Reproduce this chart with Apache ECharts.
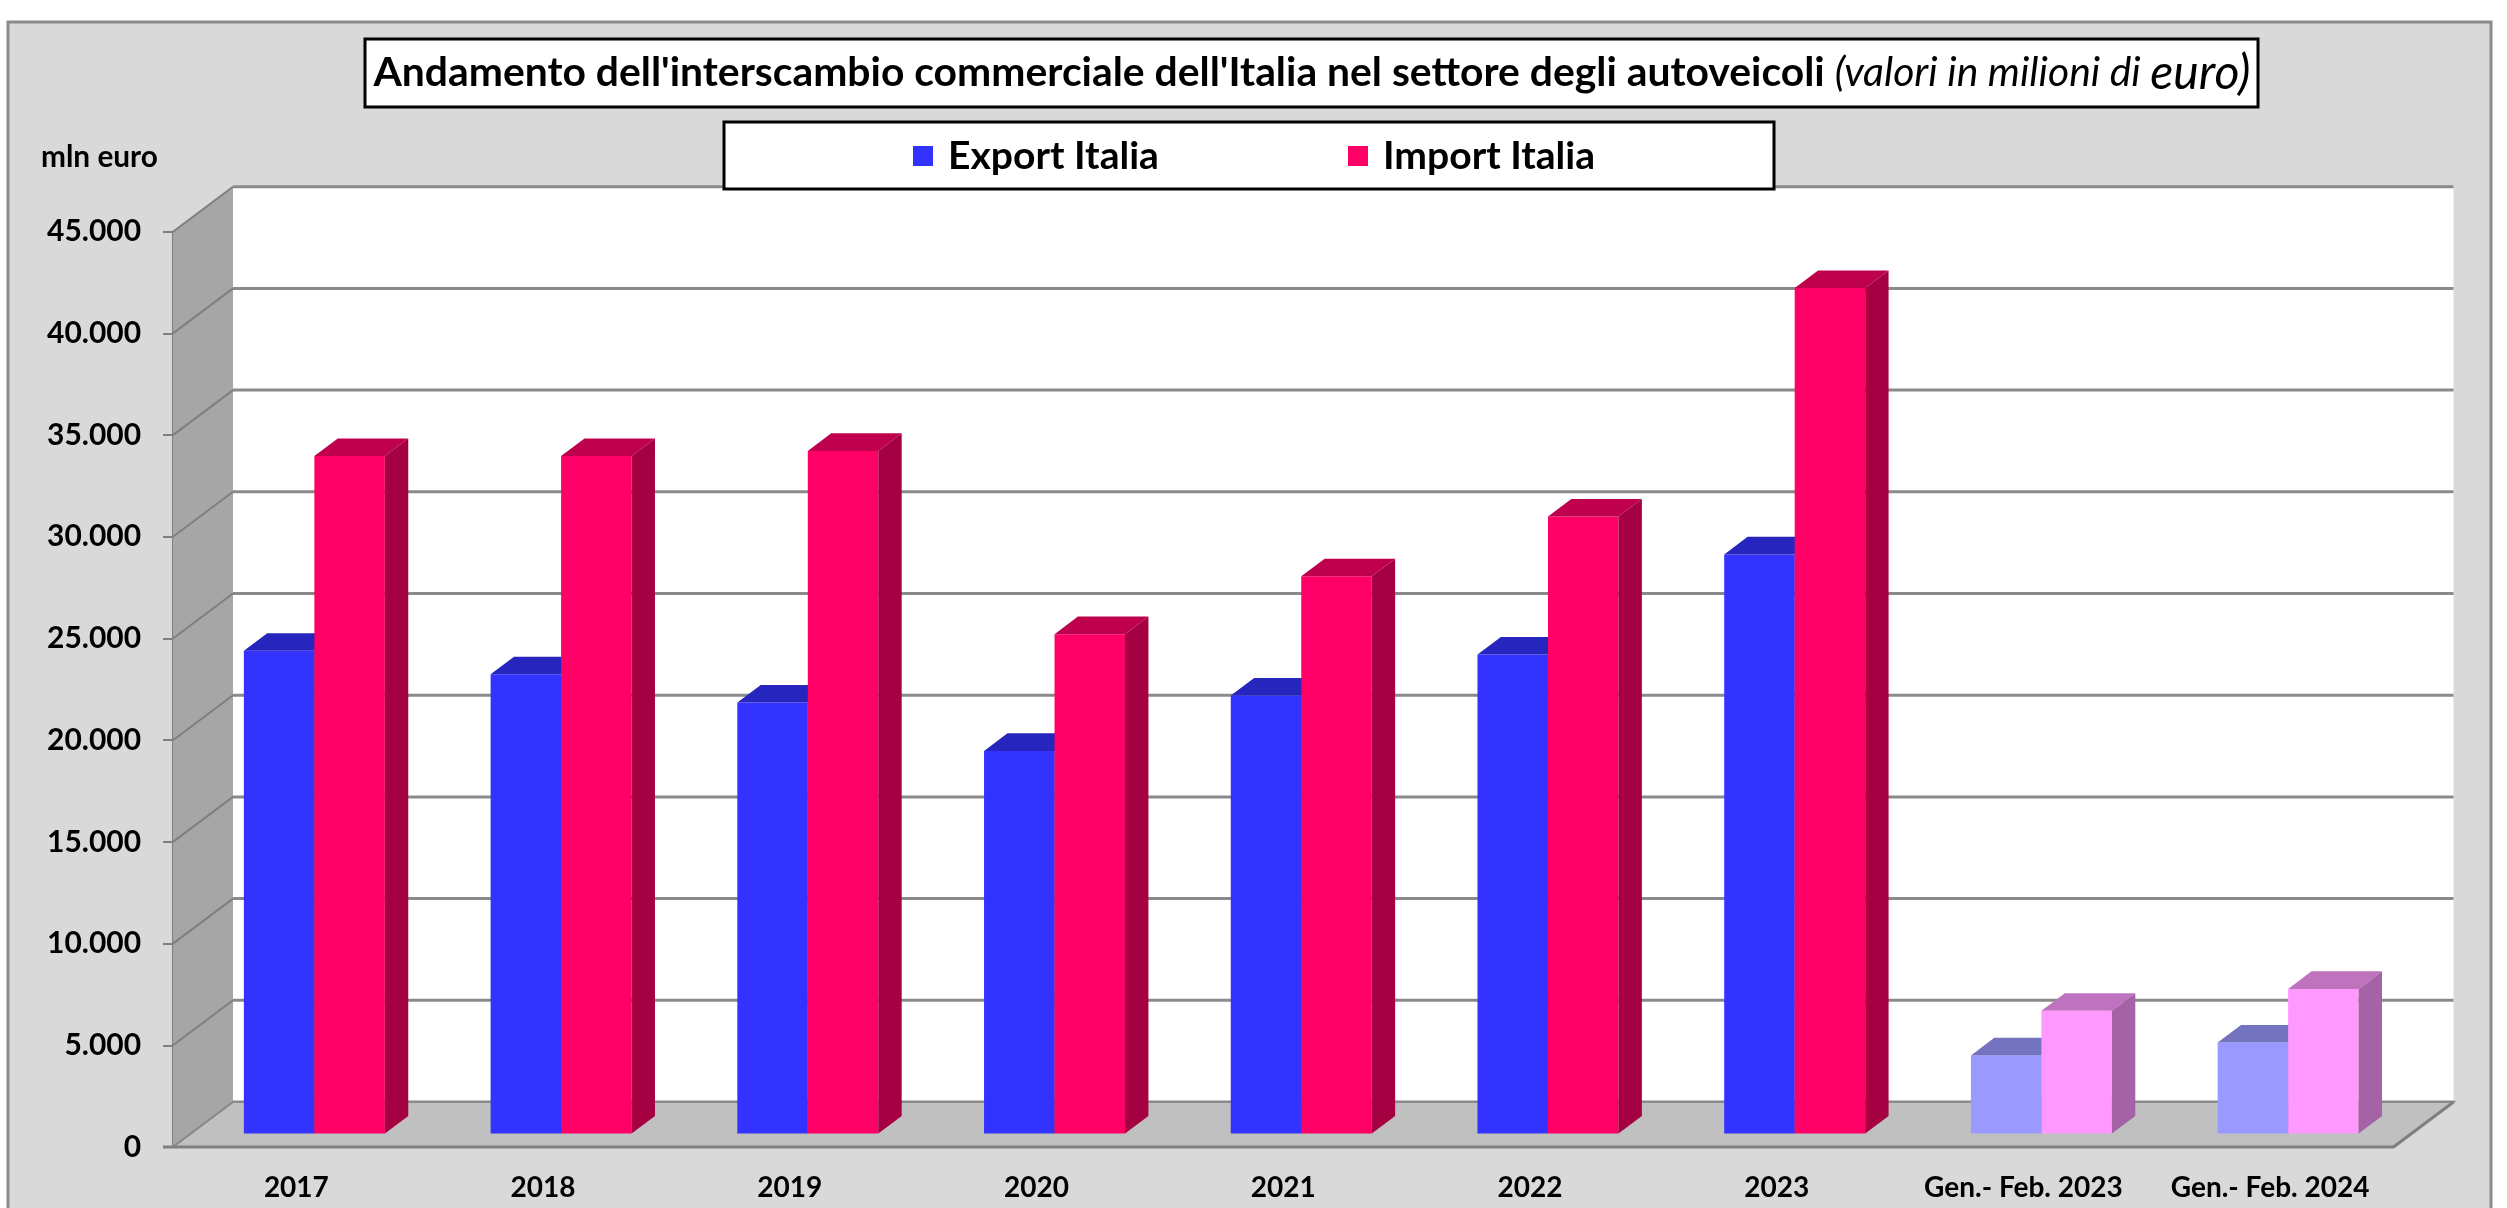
<!DOCTYPE html>
<html><head><meta charset="utf-8">
<script src="https://cdn.jsdelivr.net/npm/echarts/dist/echarts.min.js"></script>
<style>html,body{margin:0;padding:0;background:#fff}#c{width:2507px;height:1208px}</style>
</head><body><div id="c"></div><script>
// ---- data ----
const categories = ['2017','2018','2019','2020','2021','2022','2023','Gen.- Feb. 2023','Gen.- Feb. 2024'];
const exportItalia = [23730, 22580, 21190, 18810, 21530, 23550, 28470, 3840, 4470];
const importItalia = [33310, 33310, 33560, 24550, 27400, 30330, 41570, 6030, 7110];
const seriesNames = ['Export Italia', 'Import Italia'];
const yMax = 45000;
const yStep = 5000;
const unitLabel = 'mln euro';
const titleMain = "Andamento dell'interscambio commerciale dell'Italia nel settore degli autoveicoli ";
const titleNote = '(valori in milioni di ';
const titleNoteEnd = 'euro)';

// ---- style / layout ----
const FONT = 'Lato';
const DEPTH = [60, -45];          // oblique depth of the plot box (px)
const FACE = 0.30, BAR_D = 0.39;  // bar front position and bar depth as share of box depth
const PAL = [
  { normal: {front:'#3333FF', top:'#2626BF', side:'#1F1FA6'}, light: {front:'#9999FF', top:'#7373BF', side:'#6363A6'} },
  { normal: {front:'#FF0066', top:'#BF004C', side:'#A50042'}, light: {front:'#FF99FF', top:'#BF73BF', side:'#A562A5'} }
];
const mctx = document.createElement('canvas').getContext('2d');
function tw(font, s){ mctx.font = font; return mctx.measureText(s).width; }
function fit(style, text, target){ return 100 * target / tw(style + ' 100px ' + FONT, text); }

const tot = tw('bold 100px '+FONT, titleMain) + tw('italic 100px '+FONT, titleNote) + 1.18*tw('italic 100px '+FONT, titleNoteEnd);
const titleSize = 100 * 1878 / tot;
const legendSize = fit('bold', 'Export Italia', 211);
const xLabSize = fit('bold', '2017', 65);
const yLabSize = fit('bold', '45.000', 94);
const unitSize = fit('bold', unitLabel, 117);
const legendTextW = tw('bold ' + legendSize + 'px ' + FONT, 'Export Italia');

function fmt(v){ return String(v).replace(/\B(?=(\d{3})+(?!\d))/g, '.'); }

function renderFrame(params, api){
  const cs = params.coordSys;
  const dx = DEPTH[0], dy = DEPTH[1];
  const y0 = api.coord([0, 0])[1];
  const yT = api.coord([0, yMax])[1];
  const xL = cs.x, xR = cs.x + cs.width;
  const ch = [];
  ch.push({type:'rect', shape:{x:xL+dx, y:yT+dy, width:cs.width, height:y0-yT}, style:{fill:'#FFFFFF'}});
  ch.push({type:'polygon', shape:{points:[[xL,y0],[xL+dx,y0+dy],[xL+dx,yT+dy],[xL,yT]]}, style:{fill:'#A6A6A6'}});
  for (let v = 0; v <= yMax; v += yStep){
    const y = api.coord([0, v])[1];
    ch.push({type:'line', shape:{x1:xL+dx, y1:y+dy, x2:xR+dx, y2:y+dy}, style:{stroke:'#8A8A8A', lineWidth:3}});
    ch.push({type:'line', shape:{x1:xL, y1:y, x2:xL+dx, y2:y+dy}, style:{stroke:'#7F7F7F', lineWidth:2}});
  }
  ch.push({type:'polygon', shape:{points:[[xL,y0],[xR,y0],[xR+dx,y0+dy],[xL+dx,y0+dy]]}, style:{fill:'#C0C0C0', stroke:'#8A8A8A', lineWidth:2}});
  ch.push({type:'line', shape:{x1:xL-10, y1:y0, x2:xR, y2:y0}, style:{stroke:'#7F7F7F', lineWidth:3}});
  ch.push({type:'line', shape:{x1:xR, y1:y0, x2:xR+dx, y2:y0+dy}, style:{stroke:'#7F7F7F', lineWidth:3}});
  return {type:'group', children:ch};
}

function makeBar(k){
  return function(params, api){
    const cat = api.value(0), val = api.value(1);
    const base = api.coord([cat, 0]);
    const top = api.coord([cat, val]);
    const band = api.size([1, 0])[0];
    const bw = band / 3.5;
    const fx = DEPTH[0]*FACE, fy = DEPTH[1]*FACE;
    const ddx = DEPTH[0]*BAR_D, ddy = DEPTH[1]*BAR_D;
    const x0 = base[0] - bw + k*bw + fx, x1 = x0 + bw;
    const yb = base[1] + fy, yt = top[1] + fy;
    const p = categories[cat].indexOf('Gen') === 0 ? PAL[k].light : PAL[k].normal;
    return {type:'group', children:[
      {type:'rect', shape:{x:x0, y:yt, width:bw, height:yb-yt}, style:{fill:p.front}},
      {type:'polygon', shape:{points:[[x0,yt],[x1,yt],[x1+ddx,yt+ddy],[x0+ddx,yt+ddy]]}, style:{fill:p.top}},
      {type:'polygon', shape:{points:[[x1,yt],[x1+ddx,yt+ddy],[x1+ddx,yb+ddy],[x1,yb]]}, style:{fill:p.side}}
    ]};
  };
}

const chart = echarts.init(document.getElementById('c'), null, {renderer:'canvas'});
chart.setOption({
  animation: false,
  backgroundColor: '#FFFFFF',
  textStyle: {fontFamily: FONT},
  graphic: [
    {type:'rect', z:-10, shape:{x:8, y:22, width:2483, height:1210}, style:{fill:'#D9D9D9', stroke:'#8C8C8C', lineWidth:3}},
    {type:'rect', z:-5, shape:{x:365, y:39, width:1893, height:68}, style:{fill:'#FFFFFF', stroke:'#000000', lineWidth:3}},
    {type:'rect', z:100, shape:{x:724, y:122, width:1050, height:67}, style:{fill:'#FFFFFF', stroke:'#000000', lineWidth:3}},
    {type:'text', z:100, left:41, top:142, style:{text:unitLabel, font:'bold '+unitSize+'px '+FONT, fill:'#000'}}
  ],
  title: {
    left: 1312, top: 51, textAlign: 'center', padding: 0,
    text: '{b|' + titleMain + '}{i|' + titleNote + '}{e|' + titleNoteEnd + '}',
    textStyle: {rich: {
      b: {fontFamily:FONT, fontWeight:'bold', fontSize:titleSize, color:'#000', lineHeight:44},
      i: {fontFamily:FONT, fontStyle:'italic', fontWeight:'normal', fontSize:titleSize, color:'#000', lineHeight:44},
      e: {fontFamily:FONT, fontStyle:'italic', fontWeight:'normal', fontSize:titleSize*1.18, color:'#000', lineHeight:44}
    }}
  },
  legend: {
    data: seriesNames, left: 913, top: 136, padding: 0, z: 110,
    icon: 'rect', itemWidth: 20, itemHeight: 20,
    itemGap: 1348 - 913 - (20 + 5 + 10 + legendTextW),
    textStyle: {fontFamily:FONT, fontWeight:'bold', fontSize:legendSize, color:'#000', lineHeight:40, padding:[0,0,0,10]}
  },
  grid: {left: 173, right: 113.5, top: 231.7, bottom: 61, containLabel: false},
  xAxis: {
    type: 'category', data: categories,
    axisLine: {show:false}, axisTick: {show:false}, splitLine: {show:false},
    axisLabel: {interval:0, margin:27, fontFamily:FONT, fontWeight:'bold', fontSize:xLabSize, color:'#000'}
  },
  yAxis: {
    type: 'value', min: 0, max: yMax, interval: yStep,
    splitLine: {show:false},
    axisLine: {show:true, lineStyle:{color:'#7F7F7F', width:2}},
    axisTick: {show:true, length:10, lineStyle:{color:'#7F7F7F', width:2}},
    axisLabel: {margin:32, fontFamily:FONT, fontWeight:'bold', fontSize:yLabSize, color:'#000', formatter: fmt}
  },
  series: [
    {type:'custom', name:'frame', silent:true, z:1, encode:{x:0, y:1}, data:[[0, 0]], renderItem: renderFrame},
    {type:'custom', name:seriesNames[0], z:2, encode:{x:0, y:1}, itemStyle:{color:PAL[0].normal.front},
      data: categories.map((c, i) => [i, exportItalia[i]]), renderItem: makeBar(0)},
    {type:'custom', name:seriesNames[1], z:3, encode:{x:0, y:1}, itemStyle:{color:PAL[1].normal.front},
      data: categories.map((c, i) => [i, importItalia[i]]), renderItem: makeBar(1)}
  ]
});
</script></body></html>
